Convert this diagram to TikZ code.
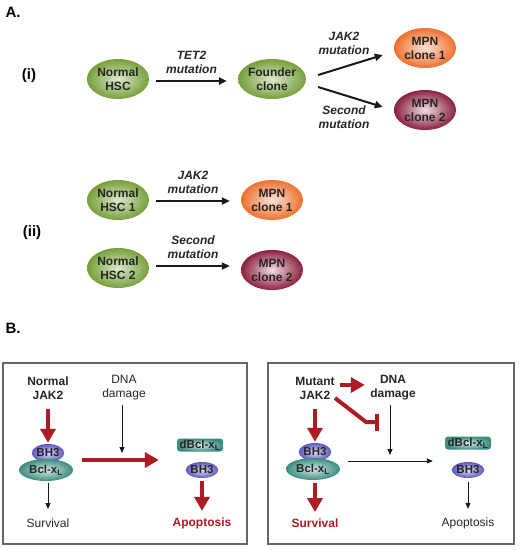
\documentclass[tikz,border=0pt]{standalone}
\usepackage{fontspec}
\setmainfont{Liberation Sans}
\usepackage{xcolor}
\usetikzlibrary{shapes,arrows.meta,calc}

\definecolor{hscgreen}{RGB}{118,160,58}
\definecolor{mpnorange}{RGB}{238,112,48}
\definecolor{mpnred}{RGB}{140,32,64}
\definecolor{bhblue}{RGB}{92,88,190}
\definecolor{bclteal}{RGB}{58,140,128}
\definecolor{jred}{RGB}{172,28,34}

\begin{document}
\begin{tikzpicture}[x=1pt, y=-1pt,
    txt/.style={font=\fontsize{12}{14}\selectfont\bfseries, align=center, text=black!85},
    plain/.style={font=\fontsize{12}{14}\selectfont, align=center, text=black!85},
    mut/.style={font=\fontsize{12}{14}\selectfont\bfseries\itshape, align=center, text=black!85},
    panel/.style={font=\fontsize{15}{17}\selectfont\bfseries},
    cell/.style={ellipse, minimum width=62pt, minimum height=40pt, inner sep=0pt, txt},
    hsc/.style={cell, inner color=hscgreen!25, outer color=hscgreen},
    clone one/.style={cell, inner color=mpnorange!20, outer color=mpnorange},
    clone two/.style={cell, inner color=mpnred!15, outer color=mpnred},
    bh/.style={ellipse, minimum width=32pt, minimum height=18pt, inner sep=0pt,
        font=\fontsize{11.5}{12}\selectfont\bfseries, text=black!85,
        inner color=bhblue!20, outer color=bhblue},
    bcl/.style={ellipse, minimum width=54pt, minimum height=22pt, inner sep=0pt,
        font=\fontsize{11.5}{12}\selectfont\bfseries, text=black!85,
        inner color=bclteal!20, outer color=bclteal},
    dbcl/.style={rectangle, rounded corners=3pt, minimum width=46pt, minimum height=13pt,
        inner sep=0pt, font=\fontsize{11.5}{12}\selectfont\bfseries, text=black!85,
        inner color=bclteal!20, outer color=bclteal},
    arr/.style={-{Triangle[length=8pt,width=7pt]}, line width=2pt, black!90},
    thin/.style={-{Triangle[length=6pt,width=5pt]}, line width=0.9pt, black!90},
    redarr/.style={-{Triangle[length=14pt,width=15pt]}, line width=4pt, jred},
    frame/.style={draw=black!60, line width=1.3pt}
]
    \useasboundingbox (0,0) rectangle (520,550);

    % A (i)
    \node[panel] (lblA) at (13,12) {A.};
    \node[panel] (lbli) at (29,76) {(i)};
    \node[hsc] (nhsc) at (118,79) {Normal\\HSC};
    \node[hsc] (founder) at (272,79) {Founder\\clone};
    \node[clone one] (mpnA) at (425,48) {MPN\\clone 1};
    \node[clone two] (mpnB) at (425,110) {MPN\\clone 2};
    \draw[arr] ([shift={(7,2)}]nhsc.east) -- ([shift={(-11,2)}]founder.west)
        node[mut, midway, above=3pt] (tet) {TET2\\mutation};
    \draw[arr] ([shift={(12,-4)}]founder.east) -- ([shift={(-11,7)}]mpnA.west);
    \draw[arr] ([shift={(12,8)}]founder.east) -- ([shift={(-11,-3)}]mpnB.west);
    \node[mut] (jakmut) at (344,43) {JAK2\\mutation};
    \node[mut] (secmut) at (344,117) {Second\\mutation};

    % A (ii)
    \node[panel] (lblii) at (32,233) {(ii)};
    \node[hsc] (nhscA) at (118,200) {Normal\\HSC 1};
    \node[clone one] (cloneA) at (272,200) {MPN\\clone 1};
    \node[hsc] (nhscB) at (118,268) {Normal\\HSC 2};
    \node[clone two] (cloneB) at (272,270) {MPN\\clone 2};
    \draw[arr] ([shift={(7,1)}]nhscA.east) -- ([shift={(-11,1)}]cloneA.west)
        node[mut, midway, above=3pt] (jakmutb) {JAK2\\mutation};
    \draw[arr] ([shift={(7,-2)}]nhscB.east) -- ([shift={(-11,-4)}]cloneB.west)
        node[mut, midway, above=3pt] (secmutb) {Second\\mutation};

    % B
    \node[panel] (lblB) at (13,328) {B.};
    \draw[frame] (3,363) rectangle (247,544);
    \draw[frame] (268,363) rectangle (514,544);

    % B left: normal JAK2
    \node[txt] (njak) at (48,388) {Normal\\JAK2};
    \node[plain] (dnaL) at (124,388) {DNA\\damage};
    \node[bh] (bhL) at (48,453) {BH3};
    \node[bcl] (bclL) at (46,470) {Bcl-x\textsubscript{L}};
    \node[plain] (survL) at (48,523) {Survival};
    \node[dbcl] (dbclL) at (200,445) {dBcl-x\textsubscript{L}};
    \node[bh, minimum width=30pt, minimum height=16pt] (bhLr) at (202,470) {BH3};
    \node[txt, text=jred] (apopL) at (202,523) {Apoptosis};
    \coordinate (startL) at (82,460);
    \coordinate (hitL) at (122,453);
    \draw[redarr] ([yshift=-6pt]njak.south) -- ([yshift=1pt]bhL.north);
    \draw[thin] ([yshift=-2pt]bclL.south -| survL) -- ([yshift=6pt]survL.north);
    \draw[thin] ([xshift=-2pt,yshift=-1pt]dnaL.south) -- (hitL);
    \draw[redarr] (startL) -- ([xshift=-18pt]dbclL.west |- startL);
    \draw[redarr] ([yshift=-3pt]bhLr.south) -- ([yshift=3pt]apopL.north);

    % B right: mutant JAK2
    \node[txt] (mjak) at (315,388) {Mutant\\JAK2};
    \node[txt] (dnaR) at (393,388) {DNA\\damage};
    \node[bh] (bhR) at (315,452) {BH3};
    \node[bcl] (bclR) at (313,469) {Bcl-x\textsubscript{L}};
    \node[txt, text=jred] (survR) at (315,523) {Survival};
    \node[dbcl] (dbclR) at (468,443) {dBcl-x\textsubscript{L}};
    \node[bh, minimum width=30pt, minimum height=16pt] (bhRr) at (468,470) {BH3};
    \node[plain] (apopR) at (468,523) {Apoptosis};
    \coordinate (startR) at (348,461);
    \coordinate (hitR) at (390,455);
    \coordinate (inhib) at (335,398);
    \coordinate (bend) at (366,422);
    \draw[redarr] ([shift={(2,-3)}]mjak.east) -- ([shift={(-2,-3)}]dnaR.west);
    \draw[jred, line width=4pt, -{Bar[width=17pt,line width=4pt]}]
        (inhib) -- (bend) -- ++(13,0);
    \draw[thin] ([xshift=-3pt,yshift=-1pt]dnaR.south) -- (hitR);
    \draw[redarr] ([yshift=-6pt]mjak.south) -- ([yshift=1pt]bhR.north);
    \draw[thin] (startR) -- ([xshift=-12pt]dbclR.west |- startR);
    \draw[redarr] ([yshift=-3pt]bclR.south -| survR) -- ([yshift=3pt]survR.north);
    \draw[thin] ([yshift=-4pt]bhRr.south) -- ([yshift=5pt]apopR.north);
\end{tikzpicture}
\end{document}
